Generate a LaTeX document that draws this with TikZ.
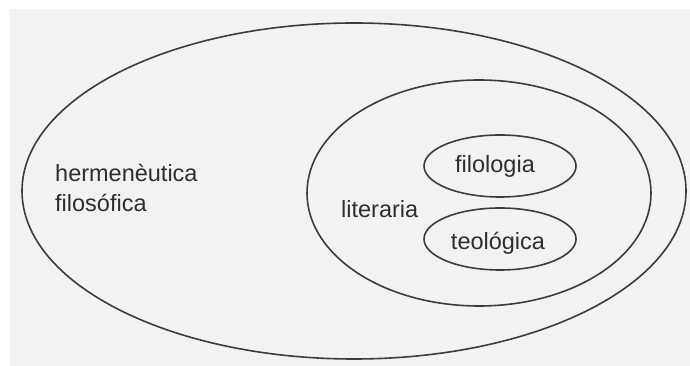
\documentclass[tikz,border=0pt]{standalone}
\usepackage{fontspec}
\setmainfont{Liberation Sans}
\usepackage{tikz}
\usetikzlibrary{positioning,shapes.geometric}
\definecolor{mygray}{HTML}{F2F2F2}
\definecolor{myline}{HTML}{3C3C3C}
\definecolor{mytext}{HTML}{2E2E2E}

\begin{document}
\begin{tikzpicture}[x=1pt, y=1pt, ring/.style = {draw=myline, line width=1.6pt, ellipse, inner sep=0pt}, word/.style = {text=mytext, font=\fontsize{23.5}{30}\selectfont, inner sep=0pt}]
		\useasboundingbox[fill=white] (0,0) rectangle (690,366);
		\fill[mygray] (10,0) rectangle (690,357);
		\node[ring, minimum width=664, minimum height=336] (herm) at (354,175) {};
		\node[ring, minimum width=344, minimum height=226] (lit) at (479,173) {};
		\node[ring, minimum width=152, minimum height=62] (filo) at (500,200) {};
		\node[ring, minimum width=152, minimum height=62] (teo) at (500,127) {};
		\node[word, anchor=base west, align=left] (hermtext) at (55,154) {hermenèutica\\filosófica};
		\node[word, anchor=base west] (littext) at (341,148) {literaria};
		\node[word, anchor=base] (filotext) at (495,193) {filologia};
		\node[word, anchor=base] (teotext) at (498,116) {teológica};
	\end{tikzpicture}
\end{document}
